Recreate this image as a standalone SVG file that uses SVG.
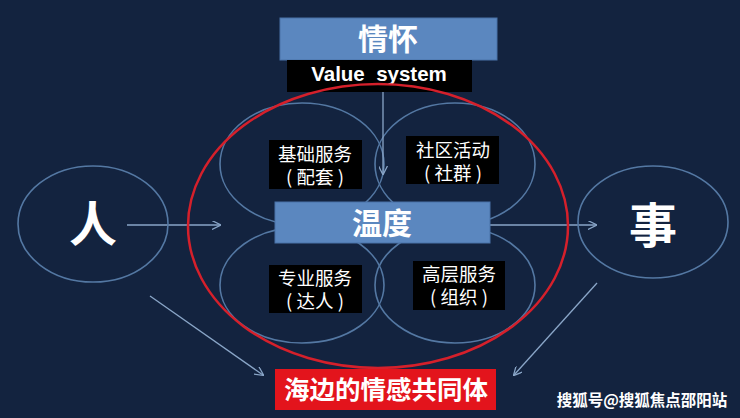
<svg xmlns="http://www.w3.org/2000/svg" width="740" height="418" viewBox="0 0 740 418">
<defs>
<style>
.bg{fill:#13233f}
.ring{fill:none;stroke:#5478a3;stroke-width:1.6}
.conn{fill:none;stroke:#8aa6c8;stroke-width:1.3}
.lbl{fill:#000;}
.lt{font-family:"Noto Sans CJK SC","Noto Sans",sans-serif;font-size:18.5px;fill:#fff;text-anchor:middle}
.big{font-family:"Noto Sans CJK SC","Noto Sans",sans-serif;font-weight:bold;fill:#fff;text-anchor:middle}
</style>
<marker id="arr" viewBox="0 0 10 10" refX="9" refY="5" markerWidth="9" markerHeight="9" markerUnits="userSpaceOnUse" orient="auto">
<path d="M0,0 L10,5 L0,10" fill="none" stroke="#8aa6c8" stroke-width="1.4"/>
</marker>
</defs>
<rect class="bg" x="0" y="0" width="740" height="418"/>

<g id="circles">
<ellipse class="ring" cx="302" cy="164" rx="82" ry="61"/>
<ellipse class="ring" cx="455" cy="164" rx="80" ry="61"/>
<ellipse class="ring" cx="302" cy="285" rx="82" ry="58"/>
<ellipse class="ring" cx="455" cy="285" rx="80" ry="58"/>
</g>

<g id="connectors">
<line class="conn" x1="383" y1="62" x2="383" y2="174" marker-end="url(#arr)"/>
<line class="conn" x1="127" y1="225" x2="220" y2="225" marker-end="url(#arr)"/>
<line class="conn" x1="490" y1="225" x2="596" y2="225" marker-end="url(#arr)"/>
<line class="conn" x1="150" y1="296" x2="263" y2="375" marker-end="url(#arr)"/>
<line class="conn" x1="597" y1="283" x2="514" y2="375" marker-end="url(#arr)"/>
</g>

<g id="node-qinghuai">
<rect x="280" y="18" width="217" height="42" fill="#5b87bf" stroke="#4a73a8" stroke-width="1"/>
<text class="big" x="388" y="50" font-size="30">情怀</text>
</g>
<g id="node-value">
<rect x="287" y="60" width="185" height="32" fill="#000"/>
<text x="379" y="81" font-family="Liberation Sans,Arial,sans-serif" font-weight="bold" font-size="20.5" fill="#fff" text-anchor="middle">Value&#160; system</text>
</g>

<g id="node-ren">
<ellipse class="ring" cx="93" cy="224" rx="75" ry="58"/>
<text class="big" x="93" y="241" font-size="48">人</text>
</g>
<g id="node-shi">
<ellipse class="ring" cx="653" cy="222" rx="75" ry="56"/>
<text class="big" x="653" y="243" font-size="48">事</text>
</g>

<g id="red-circle">
<ellipse cx="378" cy="226" rx="190" ry="142" fill="none" stroke="#d5202b" stroke-width="2.5"/>
</g>

<g id="node-jichu">
<rect class="lbl" x="269" y="140" width="93" height="49"/>
<text class="lt" x="315" y="161">基础服务</text>
<text class="lt" x="315" y="184">( 配套 )</text>
</g>
<g id="node-shequ">
<rect class="lbl" x="406" y="136" width="93" height="48"/>
<text class="lt" x="453" y="157">社区活动</text>
<text class="lt" x="453" y="180">( 社群 )</text>
</g>
<g id="node-zhuanye">
<rect class="lbl" x="269" y="265" width="93" height="48"/>
<text class="lt" x="315" y="285">专业服务</text>
<text class="lt" x="315" y="308">( 达人 )</text>
</g>
<g id="node-gaoceng">
<rect class="lbl" x="413" y="261" width="92" height="49"/>
<text class="lt" x="459" y="281">高层服务</text>
<text class="lt" x="459" y="304">( 组织 )</text>
</g>

<g id="node-wendu">
<rect x="275" y="202" width="215" height="41" fill="#5b87bf" stroke="#4a73a8" stroke-width="1"/>
<text class="big" x="382" y="234" font-size="30">温度</text>
</g>

<g id="node-community">
<rect x="275" y="369" width="221" height="41" fill="#e3141c"/>
<text class="big" x="386" y="399" font-size="25.5">海边的情感共同体</text>
</g>

<text x="642" y="406" font-family="Noto Sans CJK SC,sans-serif" font-size="15.5" font-weight="bold" fill="#fff" text-anchor="middle">搜狐号@搜狐焦点邵阳站</text>
</svg>
